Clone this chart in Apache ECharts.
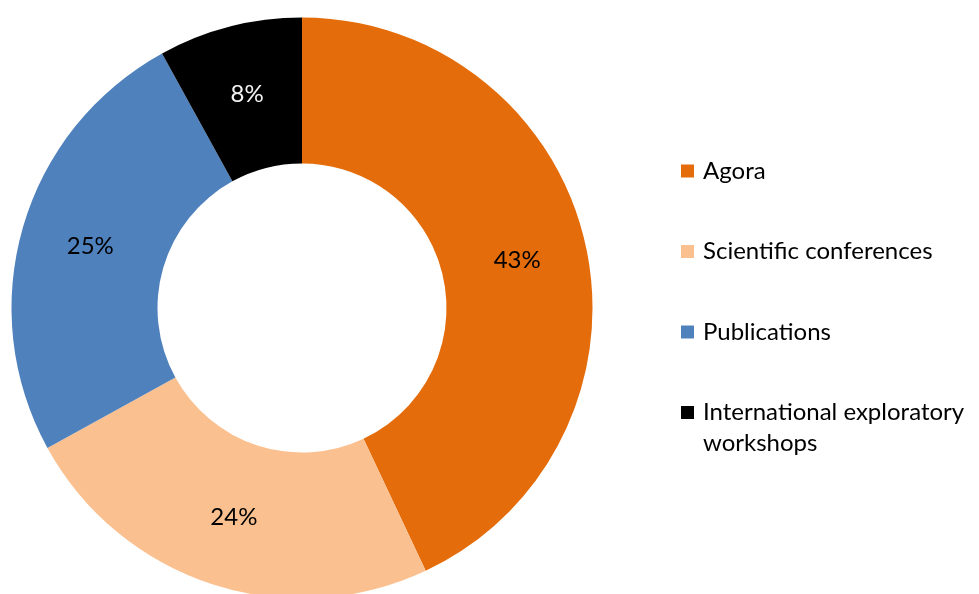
<!DOCTYPE html>
<html><head><meta charset="utf-8">
<script src="https://cdn.jsdelivr.net/npm/echarts@6/dist/echarts.min.js"></script>
<style>html,body{margin:0;padding:0;background:#fff}#c{width:979px;height:594px}</style>
</head><body><div id="c"></div>
<script>
const categories = ['Agora', 'Scientific conferences', 'Publications', 'International exploratory workshops'];
const values = [43, 24, 25, 8];
const colors = ['#E46C0A', '#FAC090', '#4F81BD', '#000000'];
const labelColors = ['#000000', '#000000', '#000000', '#F2F2F2'];

const FONT = 'Lato';
const FS = 24;
// legend icon: a 13px square centred in a 13x93 box
const ICON_MID = 'path://M0,0L0,0M0,40L13,40L13,53L0,53ZM13,93L13,93';

const chart = echarts.init(document.getElementById('c'), null, {renderer: 'canvas'});
chart.setOption({
  animation: false,
  color: colors,
  legend: {
    orient: 'vertical',
    left: 681,
    top: 124.5,
    padding: 0,
    itemWidth: 13,
    itemHeight: 93,
    itemGap: -12.5,
    icon: ICON_MID,
    textStyle: {fontFamily: FONT, fontSize: FS, color: '#000', lineHeight: 31, padding: [0, 0, 0, 4]},
    formatter: n => n.indexOf('exploratory ') >= 0 ? '\n' + n.replace('exploratory ', 'exploratory\n') : n,
    data: categories
  },
  series: [{
    type: 'pie',
    center: [302, 308],
    radius: [144.5, 290.5],
    startAngle: 90,
    clockwise: true,
    avoidLabelOverlap: false,
    label: {
      show: true,
      position: 'inside',
      formatter: '{c}%',
      fontFamily: FONT,
      fontSize: FS
    },
    labelLine: {show: false},
    data: categories.map((c, i) => ({
      name: c, value: values[i],
      label: {color: labelColors[i]}
    }))
  }]
});
</script></body></html>
